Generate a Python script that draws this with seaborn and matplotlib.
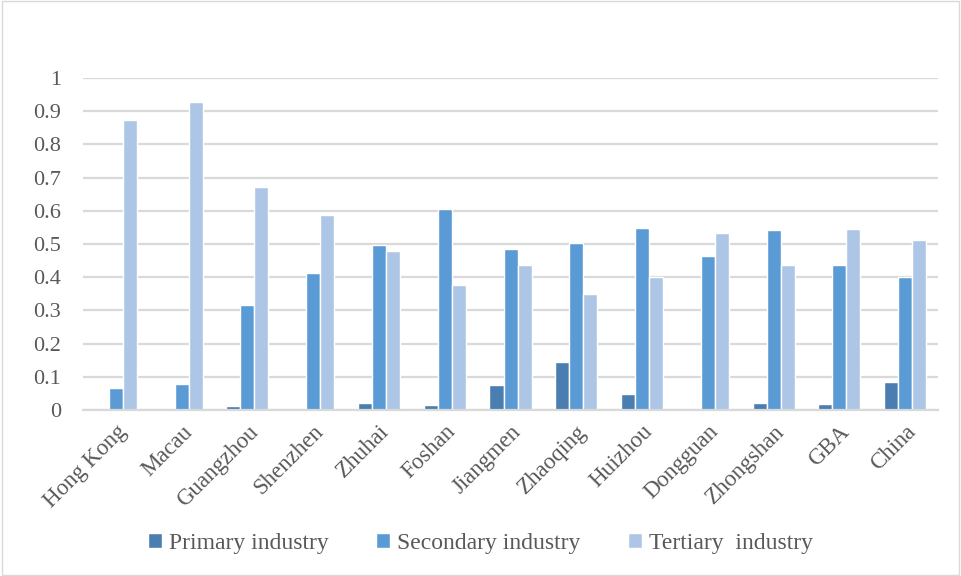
import matplotlib
matplotlib.use("Agg")
import matplotlib.pyplot as plt
import seaborn as sns
import pandas as pd
from matplotlib.patches import Rectangle

cities = ["Hong Kong", "Macau", "Guangzhou", "Shenzhen", "Zhuhai", "Foshan", "Jiangmen",
          "Zhaoqing", "Huizhou", "Dongguan", "Zhongshan", "GBA", "China"]
primary = [0.0, 0.0, 0.011, 0.001, 0.020, 0.016, 0.077, 0.146, 0.048, 0.003, 0.021, 0.017, 0.086]
secondary = [0.068, 0.078, 0.316, 0.413, 0.497, 0.605, 0.484, 0.503, 0.549, 0.465, 0.542, 0.436, 0.402]
tertiary = [0.873, 0.928, 0.672, 0.587, 0.479, 0.377, 0.437, 0.351, 0.402, 0.532, 0.436, 0.546, 0.511]
series = ["Primary industry", "Secondary industry", "Tertiary  industry"]
colors = ["#4a7eb0", "#5b9bd5", "#adc6e5"]

rows = []
for name, vals in zip(series, [primary, secondary, tertiary]):
    for c, v in zip(cities, vals):
        rows.append({"city": c, "industry": name, "value": v})
df = pd.DataFrame(rows)

sns.set_theme(style="white")
plt.rcParams["font.family"] = ["Liberation Serif", "DejaVu Serif"]

fig = plt.figure(figsize=(9.61, 5.76), dpi=100)
ax = fig.add_axes([0.0864, 0.288, 0.8897, 0.5766])
sns.barplot(data=df, x="city", y="value", hue="industry", palette=colors, saturation=1,
            width=0.64, edgecolor="white", linewidth=1, ax=ax, legend=True)

ax.set_ylim(0, 1)
ax.set_yticks([i / 10 for i in range(11)])
ax.set_yticklabels(["0"] + [f"{i/10:g}" for i in range(1, 10)] + ["1"])
ax.grid(axis="y", color="#d9d9d9", linewidth=1.6)
ax.set_axisbelow(True)
for s in ["top", "right", "left"]:
    ax.spines[s].set_visible(False)
ax.spines["bottom"].set_color("#d9d9d9")
ax.spines["bottom"].set_linewidth(1.6)
ax.set_xlabel("")
ax.set_ylabel("")
ax.tick_params(axis="y", length=0, labelsize=16, labelcolor="#595959", pad=16)
ax.tick_params(axis="x", length=0, labelsize=16.5, labelcolor="#595959", pad=8)
plt.setp(ax.get_xticklabels(), rotation=45, ha="right", rotation_mode="anchor")

h, l = ax.get_legend_handles_labels()
ax.legend(h, l, loc="center", bbox_to_anchor=(0.5, 0.057), bbox_transform=fig.transFigure,
          ncol=3, frameon=False, fontsize=17, handlelength=0.6, handleheight=0.6,
          handletextpad=0.3, columnspacing=2.0, labelcolor="#595959")

fig.patches.append(Rectangle((0.002, 0.002), 0.996, 0.996, transform=fig.transFigure,
                             fill=False, edgecolor="#d9d9d9", linewidth=1))
fig.savefig("out.png", dpi=100)
